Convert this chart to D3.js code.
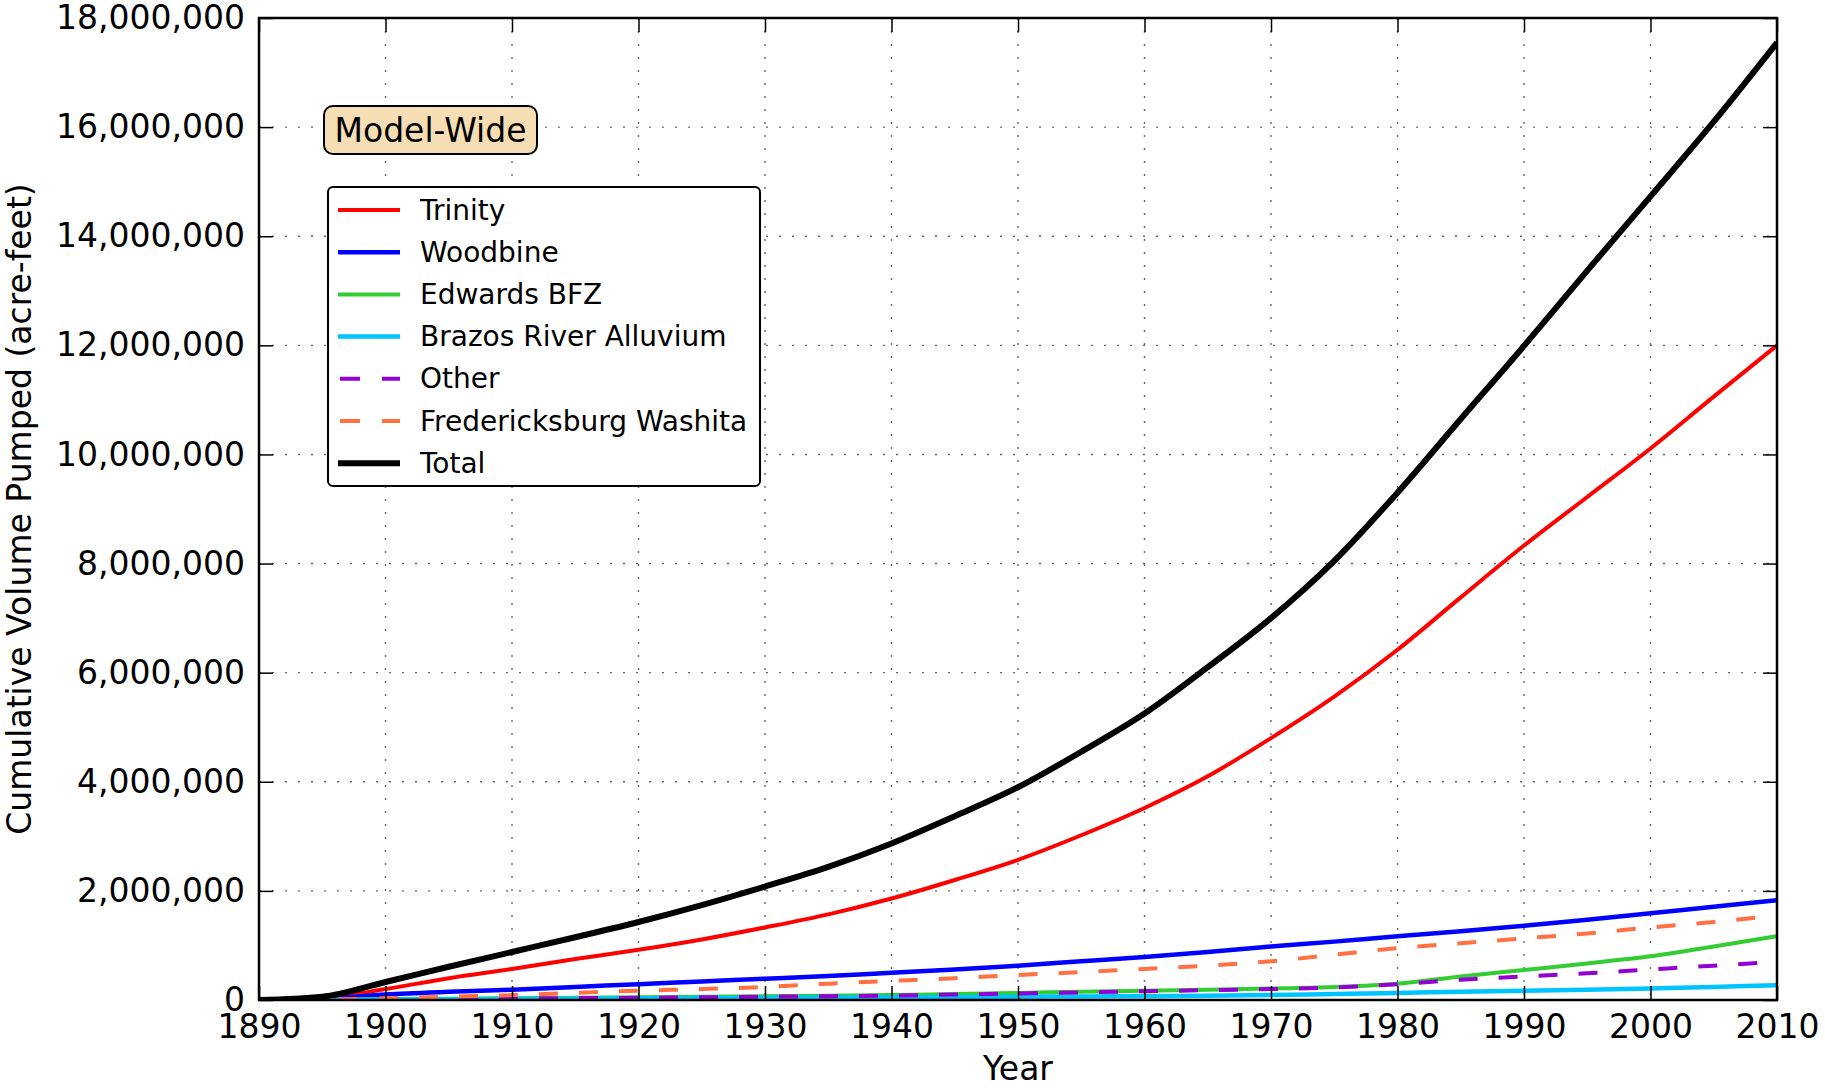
<!DOCTYPE html>
<html>
<head>
<meta charset="utf-8">
<script src="https://cdn.jsdelivr.net/npm/d3@7"></script>
<style>
  html, body { margin: 0; padding: 0; background: #fff; }
  text { font-family: "DejaVu Sans", sans-serif; fill: #000; }
</style>
</head>
<body>
<svg id="chart" width="1825" height="1091"></svg>
<script>
// ---- Data (cumulative volume pumped, millions of acre-feet) ----
const years = [1890,1895,1900,1905,1910,1915,1920,1925,1930,1935,1940,1945,1950,1955,1960,1965,1970,1975,1980,1985,1990,1995,2000,2005,2010];
const trinity = [0,0.03,0.2,0.4,0.57,0.75,0.92,1.11,1.33,1.57,1.86,2.2,2.57,3.02,3.52,4.1,4.8,5.56,6.42,7.38,8.33,9.22,10.11,11.06,12.0];
const woodbine = [0,0.02,0.1,0.15,0.19,0.24,0.29,0.34,0.39,0.44,0.5,0.56,0.63,0.71,0.79,0.88,0.98,1.07,1.17,1.26,1.36,1.47,1.59,1.71,1.83];
const edwards = [0,0.005,0.02,0.025,0.03,0.04,0.05,0.06,0.07,0.08,0.09,0.11,0.13,0.15,0.17,0.19,0.21,0.24,0.3,0.43,0.55,0.67,0.8,0.98,1.17];
const brazos = [0,0.003,0.01,0.015,0.02,0.025,0.03,0.035,0.04,0.045,0.05,0.055,0.06,0.065,0.07,0.08,0.09,0.11,0.13,0.15,0.17,0.19,0.21,0.24,0.27];
const other = [0,0.005,0.02,0.025,0.03,0.035,0.04,0.05,0.06,0.07,0.08,0.1,0.12,0.14,0.16,0.18,0.2,0.23,0.29,0.37,0.43,0.49,0.56,0.63,0.7];
const fredericksburg = [0,0.01,0.03,0.06,0.09,0.13,0.17,0.2,0.24,0.3,0.35,0.4,0.46,0.51,0.57,0.63,0.71,0.83,0.95,1.04,1.13,1.22,1.33,1.43,1.55];
const total = [0,0.06,0.33,0.61,0.88,1.15,1.43,1.74,2.08,2.44,2.87,3.37,3.9,4.55,5.25,6.1,7.0,8.05,9.3,10.65,11.99,13.37,14.73,16.1,17.55];

const seriesNames = ["Trinity","Woodbine","Edwards BFZ","Brazos River Alluvium","Other","Fredericksburg Washita","Total"];
const seriesValues = [trinity, woodbine, edwards, brazos, other, fredericksburg, total];
const seriesColors = ["#ff0000","#0000ff","#33cc33","#00c4ff","#9400d3","#ff7043","#000000"];
const seriesWidths = [4, 4.5, 4, 4.5, 4, 4, 6];
const seriesDashed = [false,false,false,false,true,true,false];

const xTicks = [1890,1900,1910,1920,1930,1940,1950,1960,1970,1980,1990,2000,2010];
const yTicks = [0,2e6,4e6,6e6,8e6,10e6,12e6,14e6,16e6,18e6];

const titleText = "Model-Wide";
const xLabel = "Year";
const yLabel = "Cumulative Volume Pumped (acre-feet)";

// ---- Layout ----
const W = 1825, H = 1091;
const m = {left: 259, right: 48, top: 18, bottom: 91};
const iw = W - m.left - m.right, ih = H - m.top - m.bottom;

const svg = d3.select("#chart");
const g = svg.append("g").attr("transform", `translate(${m.left},${m.top})`);

const x = d3.scaleLinear().domain([1890, 2010]).range([0, iw]);
const y = d3.scaleLinear().domain([0, 18e6]).range([ih, 0]);

// grid
const grid = g.append("g");
grid.selectAll("line.gx").data(xTicks.slice(1, -1)).join("line")
  .attr("x1", d => x(d)).attr("x2", d => x(d)).attr("y1", 0).attr("y2", ih)
  .attr("stroke", "#666").attr("stroke-width", 1.4).attr("stroke-dasharray", "2,11");
grid.selectAll("line.gy").data(yTicks.slice(1, -1)).join("line")
  .attr("y1", d => y(d)).attr("y2", d => y(d)).attr("x1", 0).attr("x2", iw)
  .attr("stroke", "#666").attr("stroke-width", 1.4).attr("stroke-dasharray", "2,11");

// clip
svg.append("defs").append("clipPath").attr("id", "clip")
  .append("rect").attr("x", 0).attr("y", 0).attr("width", iw).attr("height", ih);

const line = d3.line().x(d => x(d[0])).y(d => y(d[1] * 1e6)).curve(d3.curveMonotoneX);
const lines = g.append("g").attr("clip-path", "url(#clip)");
seriesValues.forEach((vals, i) => {
  const pts = years.map((yr, k) => [yr, vals[k]]);
  lines.append("path").datum(pts)
    .attr("d", line)
    .attr("fill", "none")
    .attr("stroke", seriesColors[i])
    .attr("stroke-width", seriesWidths[i])
    .attr("stroke-linejoin", "round")
    .attr("stroke-dasharray", seriesDashed[i] ? "19,21" : null);
});

// axes (ticks inward on all sides)
const tickLen = 14;
const fontSize = 33;
const xAxisB = g.append("g").attr("transform", `translate(0,${ih})`)
  .call(d3.axisBottom(x).tickValues(xTicks).tickFormat(d3.format("d")).tickSize(-tickLen));
const xAxisT = g.append("g")
  .call(d3.axisTop(x).tickValues(xTicks).tickSize(-tickLen).tickFormat(""));
const yAxisL = g.append("g")
  .call(d3.axisLeft(y).tickValues(yTicks).tickFormat(d3.format(",")).tickSize(-tickLen));
const yAxisR = g.append("g").attr("transform", `translate(${iw},0)`)
  .call(d3.axisRight(y).tickValues(yTicks).tickSize(-tickLen).tickFormat(""));
[xAxisB, xAxisT, yAxisL, yAxisR].forEach(a => {
  a.select(".domain").remove();
  a.selectAll(".tick line").attr("stroke", "#000").attr("stroke-width", 1.5);
  a.selectAll(".tick text").attr("font-family", "DejaVu Sans").attr("font-size", fontSize).attr("fill", "#000");
});
xAxisB.selectAll(".tick text").attr("dy", "0.71em").attr("y", 15);
yAxisL.selectAll(".tick text").attr("x", -14);

// frame
g.append("rect").attr("x", 0).attr("y", 0).attr("width", iw).attr("height", ih)
  .attr("fill", "none").attr("stroke", "#000").attr("stroke-width", 2.5);

// axis labels
svg.append("text").attr("x", m.left + iw / 2).attr("y", 1080)
  .attr("text-anchor", "middle").attr("font-size", fontSize).text(xLabel);
svg.append("text").attr("transform", `translate(31,${m.top + ih / 2}) rotate(-90)`)
  .attr("text-anchor", "middle").attr("font-size", fontSize).text(yLabel);

// title box
const tb = svg.append("g");
tb.append("rect").attr("x", 324).attr("y", 106).attr("width", 213).attr("height", 48)
  .attr("rx", 9).attr("ry", 9).attr("fill", "#f5deb3").attr("stroke", "#000").attr("stroke-width", 2);
tb.append("text").attr("x", 430.5).attr("y", 130).attr("text-anchor", "middle")
  .attr("dominant-baseline", "central").attr("font-size", fontSize).text(titleText);

// legend
const lg = svg.append("g");
lg.append("rect").attr("x", 328).attr("y", 187).attr("width", 432).attr("height", 299)
  .attr("rx", 5).attr("ry", 5).attr("fill", "#fff").attr("stroke", "#000").attr("stroke-width", 2);
seriesNames.forEach((name, i) => {
  const ly = 210 + i * 42.2;
  lg.append("line").attr("x1", seriesDashed[i] ? 340 : 338).attr("x2", 400).attr("y1", ly).attr("y2", ly)
    .attr("stroke", seriesColors[i]).attr("stroke-width", seriesWidths[i])
    .attr("stroke-dasharray", seriesDashed[i] ? "20,22" : null);
  lg.append("text").attr("x", 420).attr("y", ly).attr("dominant-baseline", "central")
    .attr("font-size", 28).text(name);
});
</script>
</body>
</html>
